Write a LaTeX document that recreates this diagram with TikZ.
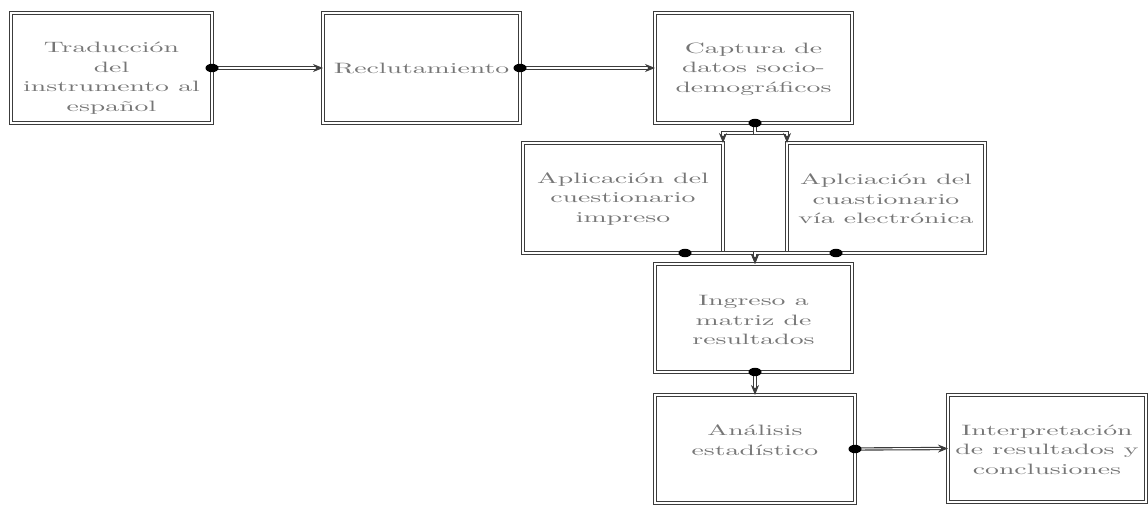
\documentclass[tikz,border=0pt]{standalone}
\usepackage{fontspec}
\newfontfamily\boxfont{lmroman10-regular.otf}[FakeStretch=1.85]
\usetikzlibrary{arrows.meta,calc}
\definecolor{txtgray}{RGB}{118,118,118}
\definecolor{linegray}{RGB}{60,60,60}
\tikzset{
  box/.style={draw=linegray, double=white, line width=1.4pt, double distance=1.6pt,
    inner sep=0pt, outer sep=0pt},
  txt/.style={align=center, text=txtgray, inner sep=0pt,
    font=\boxfont\fontsize{15}{19.5}\selectfont},
  conn/.style={draw=linegray, double=white, line width=1.1pt, double distance=1.1pt,
    -{Stealth[length=10pt,width=8pt,fill=linegray]}},
  dot/.style={fill=black}
}
\begin{document}
\begin{tikzpicture}[x=1pt,y=1pt]
\useasboundingbox (0,0) rectangle (1148,504);
% boxes (y = 504 - pixel y)
\node[box, minimum width=201pt, minimum height=110pt] (b1) at (111.5,436) {};
\node[box, minimum width=197pt, minimum height=110pt] (b2) at (421.5,436) {};
\node[box, minimum width=197pt, minimum height=110pt] (b3) at (753.5,436) {};
\node[box, minimum width=200pt, minimum height=110pt] (b4) at (623,306) {};
\node[box, minimum width=198pt, minimum height=110pt] (b5) at (886,306) {};
\node[box, minimum width=197pt, minimum height=108pt] (b6) at (753.5,186) {};
\node[box, minimum width=200pt, minimum height=108pt] (b7) at (755,55) {};
\node[box, minimum width=198pt, minimum height=107pt] (b8) at (1047,55.5) {};
% texts
\node[txt] (t1) at ([yshift=-10pt]b1.center) {Traducción\\del\\instrumento al\\español};
\node[txt] (t2) at (b2.center) {Reclutamiento};
\node[txt] (t3) at ([yshift=-1pt]b3.center) {Captura de\\datos socio-\\demográficos};
\node[txt] (t4) at ([yshift=-1pt]b4.center) {Aplicación del\\cuestionario\\impreso};
\node[txt] (t5) at ([yshift=-1pt]b5.center) {Aplciación del\\cuastionario\\vía electrónica};
\node[txt] (t6) at ([yshift=-2pt]b6.center) {Ingreso a\\matriz de\\resultados};
\node[txt] (t7) at ([yshift=9pt]b7.center) {Análisis\\estadístico};
\node[txt] (t8) at ([yshift=-1pt]b8.center) {Interpretación\\de resultados y\\conclusiones};
% connector points
\coordinate (d3) at ([xshift=1.5pt]b3.south);
\coordinate (d4) at ([xshift=62pt]b4.south);
\coordinate (d5) at ([xshift=-50pt]b5.south);
\coordinate (d6) at ([xshift=1.5pt]b6.south);
\coordinate (top6) at ([xshift=1.5pt]b6.north);
% connectors
\draw[conn] (b1.east) -- (b2.west);
\draw[conn] (b2.east) -- (b3.west);
\draw[conn] (d3) -- ++(0,-10) -| (b4.north east);
\draw[conn] (d3) -- ++(0,-10) -| (b5.north west);
\draw[conn] (d4) -| (top6);
\draw[conn] (d5) -| (top6);
\draw[conn] (d6) -- (d6 |- b7.north);
\draw[conn] (b7.east) -- (b8.west);
% dots
\fill[dot] (b1.east) ellipse [x radius=6.5pt, y radius=4.2pt];
\fill[dot] (b2.east) ellipse [x radius=6.5pt, y radius=4.2pt];
\fill[dot] (d3) ellipse [x radius=6.5pt, y radius=4.2pt];
\fill[dot] (d4) ellipse [x radius=6.5pt, y radius=4.2pt];
\fill[dot] (d5) ellipse [x radius=6.5pt, y radius=4.2pt];
\fill[dot] (d6) ellipse [x radius=6.5pt, y radius=4.2pt];
\fill[dot] (b7.east) ellipse [x radius=6.5pt, y radius=4.2pt];
\end{tikzpicture}
\end{document}
